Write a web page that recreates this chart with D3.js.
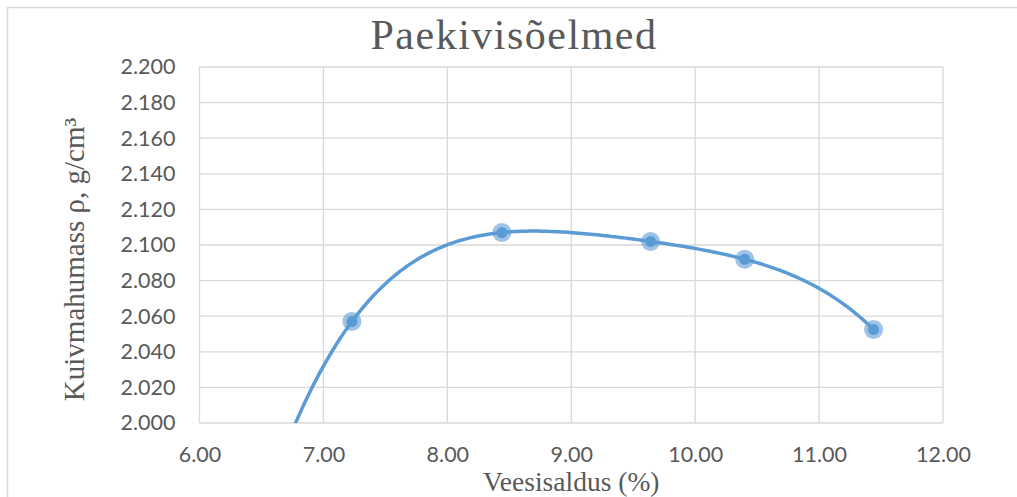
<!DOCTYPE html>
<html>
<head>
<meta charset="utf-8">
<script src="https://cdn.jsdelivr.net/npm/d3@7"></script>
<style>
  body { margin: 0; background: #fff; }
  svg text { fill: #595959; }
</style>
</head>
<body>
<div id="viz"></div>
<script>
// data
var moisture = [7.23, 8.44, 9.64, 10.40, 11.44];
var density = [2.057, 2.107, 2.102, 2.092, 2.0525];
var xTicks = [6, 7, 8, 9, 10, 11, 12];
var yTicks = [2.000, 2.020, 2.040, 2.060, 2.080, 2.100, 2.120, 2.140, 2.160, 2.180, 2.200];
var trendOrder = 4;
var trendBackward = 0.5;

var width = 1017;
var height = 497;
var margin = { t: 67, l: 199.5, b: 74, r: 74 };

var svg = d3.select('#viz').append('svg')
  .attr('width', width)
  .attr('height', height);

// outer chart border
svg.append('rect')
  .attr('x', 7.5).attr('y', 7.5)
  .attr('width', width).attr('height', height)
  .attr('fill', 'none')
  .attr('stroke', '#d9d9d9')
  .attr('stroke-width', 1.5);

var x = d3.scaleLinear().domain([6, 12]).range([margin.l, width - margin.r]);
var y = d3.scaleLinear().domain([2.0, 2.2]).range([height - margin.b, margin.t]);

// grid
var g_grid = svg.append('g').attr('class', 'grid');
g_grid.selectAll('.vx').data(xTicks).enter().append('line')
  .attr('x1', d => x(d)).attr('x2', d => x(d))
  .attr('y1', y(2.0)).attr('y2', y(2.2))
  .attr('stroke', '#d9d9d9').attr('stroke-width', 1.3);
g_grid.selectAll('.hy').data(yTicks).enter().append('line')
  .attr('x1', x(6)).attr('x2', x(12))
  .attr('y1', d => y(d)).attr('y2', d => y(d))
  .attr('stroke', '#d9d9d9').attr('stroke-width', 1.3);

// axes
var xAxis = svg.append('g')
  .attr('transform', `translate(0, ${y(2.0)})`)
  .call(d3.axisBottom(x).tickValues(xTicks).tickSize(0).tickPadding(24).tickFormat(d3.format('.2f')));
var yAxis = svg.append('g')
  .attr('transform', `translate(${x(6)}, 0)`)
  .call(d3.axisLeft(y).tickValues(yTicks).tickSize(0).tickPadding(24).tickFormat(d3.format('.3f')));
svg.selectAll('.domain').remove();
svg.selectAll('.tick text')
  .style('font-family', 'Lato, sans-serif')
  .style('font-size', '21.5px')
  .style('fill', '#595959');

// polynomial least squares fit (like the spreadsheet trendline)
function polyFit(xs, ys, order) {
  var n = order + 1;
  var A = [];
  for (var i = 0; i < n; i++) {
    A.push([]);
    for (var j = 0; j <= n; j++) A[i].push(0);
  }
  // centre x to keep the system well conditioned
  var xm = d3.mean(xs);
  xs.forEach(function(xv, k) {
    var u = xv - xm;
    for (var i = 0; i < n; i++) {
      for (var j = 0; j < n; j++) A[i][j] += Math.pow(u, i + j);
      A[i][n] += ys[k] * Math.pow(u, i);
    }
  });
  for (var c = 0; c < n; c++) {
    var p = c;
    for (var r = c + 1; r < n; r++) if (Math.abs(A[r][c]) > Math.abs(A[p][c])) p = r;
    var tmp = A[c]; A[c] = A[p]; A[p] = tmp;
    for (var r2 = 0; r2 < n; r2++) {
      if (r2 == c) continue;
      var f = A[r2][c] / A[c][c];
      for (var j2 = c; j2 <= n; j2++) A[r2][j2] -= f * A[c][j2];
    }
  }
  return { xm: xm, c: A.map(function(row, i) { return row[n] / row[i]; }) };
}
var fit = polyFit(moisture, density, trendOrder);
function trend(xv) {
  var u = xv - fit.xm;
  return fit.c.reduce(function(s, c, i) { return s + c * Math.pow(u, i); }, 0);
}
var x0 = d3.min(moisture) - trendBackward;
var x1 = d3.max(moisture);
var trendPts = d3.range(0, 201).map(function(i) {
  var xv = x0 + (x1 - x0) * i / 200;
  return [xv, trend(xv)];
});

svg.append('clipPath').attr('id', 'plotclip').append('rect')
  .attr('x', x(6)).attr('y', y(2.2))
  .attr('width', x(12) - x(6)).attr('height', y(2.0) - y(2.2));

svg.append('path')
  .datum(trendPts)
  .attr('clip-path', 'url(#plotclip)')
  .attr('fill', 'none')
  .attr('stroke', '#5b9bd5')
  .attr('stroke-width', 3.5)
  .attr('d', d3.line().x(d => x(d[0])).y(d => y(d[1])));

// markers
var g_pts = svg.append('g');
var pts = moisture.map((m, i) => [m, density[i]]);
g_pts.selectAll('.halo').data(pts).enter().append('circle')
  .attr('cx', d => x(d[0])).attr('cy', d => y(d[1]))
  .attr('r', 9.5).attr('fill', '#5b9bd5').attr('fill-opacity', 0.6);
g_pts.selectAll('.dot').data(pts).enter().append('circle')
  .attr('cx', d => x(d[0])).attr('cy', d => y(d[1]))
  .attr('r', 5.5).attr('fill', '#5b9bd5');

// titles
svg.append('text')
  .attr('x', 514).attr('y', 49)
  .attr('text-anchor', 'middle')
  .style('font-family', '"Liberation Serif", "Times New Roman", serif')
  .style('font-size', '42px')
  .style('letter-spacing', '1.5px')
  .text('Paekivisõelmed');

svg.append('text')
  .attr('x', (x(6) + x(12)) / 2).attr('y', 491)
  .attr('text-anchor', 'middle')
  .style('font-family', '"Liberation Serif", "Times New Roman", serif')
  .style('font-size', '27.5px')
  .text('Veesisaldus (%)');

svg.append('text')
  .attr('transform', 'translate(84, 259.5) rotate(-90)')
  .attr('text-anchor', 'middle')
  .style('font-family', '"Liberation Serif", "Times New Roman", serif')
  .style('font-size', '29px')
  .text('Kuivmahumass ρ, g/cm³');
</script>
</body>
</html>
